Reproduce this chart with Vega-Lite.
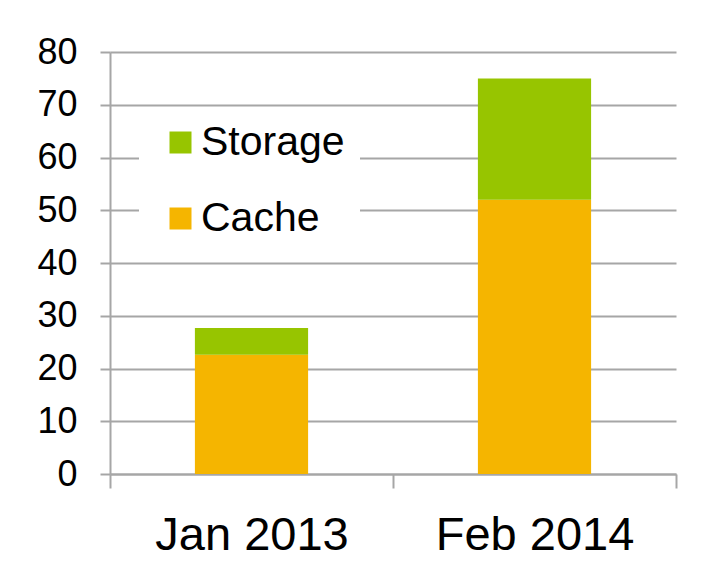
{
  "$schema": "https://vega.github.io/schema/vega-lite/v6.json",
  "autosize": {"type": "none"},
  "padding": {"left": 110, "top": 52, "right": 46, "bottom": 99},
  "width": 566,
  "height": 422,
  "background": "white",
  "config": {
    "font": "Liberation Sans",
    "view": {"stroke": null}
  },
  "data": {
    "values": [
      {"period": "Jan 2013", "type": "Cache", "value": 22.6},
      {"period": "Jan 2013", "type": "Storage", "value": 5.1},
      {"period": "Feb 2014", "type": "Cache", "value": 52},
      {"period": "Feb 2014", "type": "Storage", "value": 23}
    ]
  },
  "mark": {"type": "bar", "width": {"band": 0.4}},
  "encoding": {
    "x": {
      "field": "period",
      "type": "nominal",
      "sort": ["Jan 2013", "Feb 2014"],
      "scale": {"paddingInner": 0, "paddingOuter": 0},
      "axis": {
        "title": null,
        "labelAngle": 0,
        "labelFontSize": 47,
        "labelLimit": 400,
        "labelColor": "black",
        "labelPadding": 24,
        "tickBand": "extent",
        "tickSize": 14,
        "tickWidth": 2,
        "tickColor": "#a6a6a6",
        "domainColor": "#a6a6a6",
        "domainWidth": 2
      }
    },
    "y": {
      "field": "value",
      "type": "quantitative",
      "aggregate": "sum",
      "stack": "zero",
      "scale": {"domain": [0, 80]},
      "axis": {
        "title": null,
        "values": [0, 10, 20, 30, 40, 50, 60, 70, 80],
        "labelFontSize": 36,
        "labelColor": "black",
        "labelPadding": 23,
        "tickSize": 10,
        "tickWidth": 2,
        "tickColor": "#a6a6a6",
        "gridColor": "#a6a6a6",
        "gridWidth": 2,
        "domainColor": "#a6a6a6",
        "domainWidth": 2
      }
    },
    "color": {
      "field": "type",
      "type": "nominal",
      "scale": {"domain": ["Storage", "Cache"], "range": ["#97C500", "#F5B500"]},
      "legend": {
        "title": null,
        "orient": "none",
        "legendX": 29,
        "legendY": 55,
        "fillColor": "white",
        "padding": 15,
        "symbolOffset": 6,
        "symbolType": "square",
        "symbolSize": 484,
        "symbolStrokeWidth": 0,
        "labelFontSize": 41,
        "labelColor": "black",
        "labelOffset": 0,
        "rowPadding": 34
      }
    },
    "order": {"field": "type", "sort": "ascending"}
  }
}
